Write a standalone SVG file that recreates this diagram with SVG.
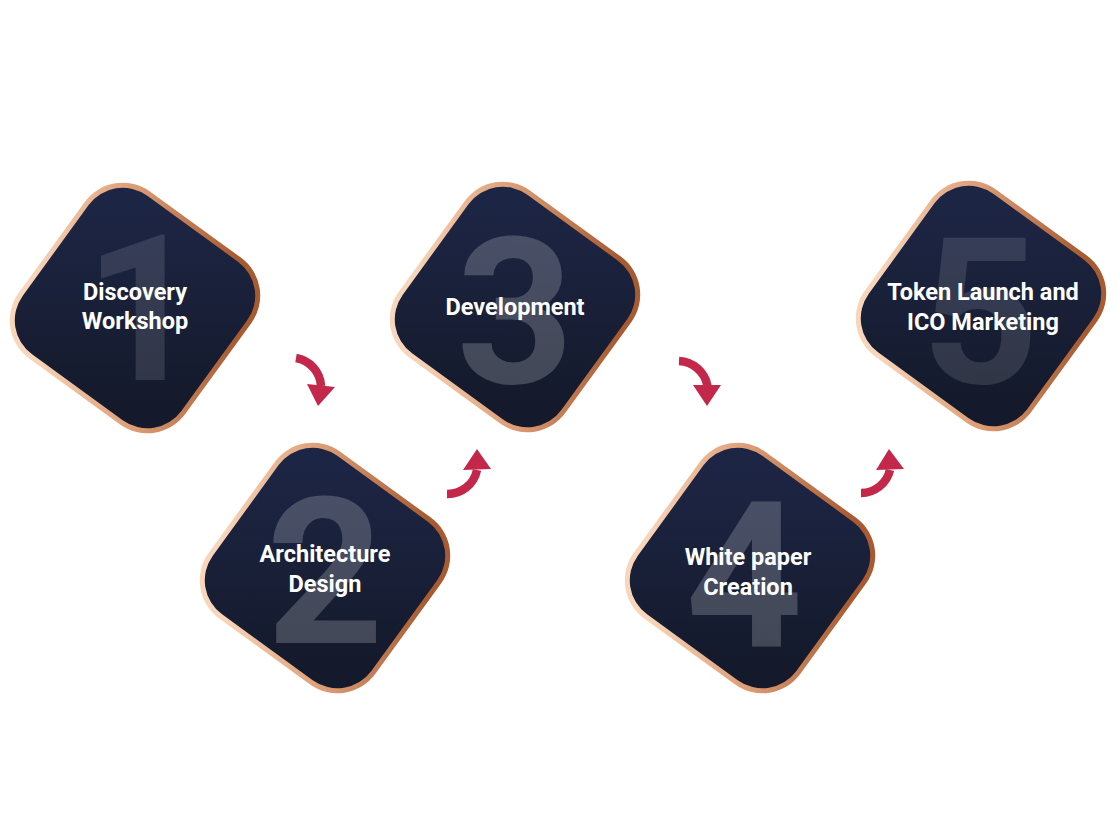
<svg xmlns="http://www.w3.org/2000/svg" xmlns:xlink="http://www.w3.org/1999/xlink" width="1118" height="822" viewBox="0 0 1118 822">
  <defs>
    <linearGradient id="copper" x1="0.096" y1="0.794" x2="0.904" y2="0.206">
      <stop offset="0" stop-color="#f8d6bb"/>
      <stop offset="0.5" stop-color="#dc9c74"/>
      <stop offset="1" stop-color="#a85a30"/>
    </linearGradient>
    <linearGradient id="navy" x1="0.206" y1="0.096" x2="0.794" y2="0.904">
      <stop offset="0" stop-color="#1d2544"/>
      <stop offset="1" stop-color="#141a2b"/>
    </linearGradient>
    <rect id="outer" x="-103" y="-103" width="206" height="206" rx="47" fill="url(#copper)"/>
    <rect id="inner" x="-98" y="-98" width="196" height="196" rx="42" fill="url(#navy)"/>
  </defs>
  <style>
    .num { font-family: Roboto, "Liberation Sans", sans-serif; font-weight: 700; font-size: 205px; fill: #ffffff; text-anchor: middle; }
    .dim { fill-opacity: 0.12; }
    .mid { fill-opacity: 0.2; }
    .lbl { font-family: Roboto, "Liberation Sans", sans-serif; font-weight: 700; font-size: 23.5px; fill: #ffffff; text-anchor: middle; }
    .shaft { fill: none; stroke: #c3284b; stroke-width: 8.5; stroke-linecap: butt; }
    .head { fill: #c3284b; }
  </style>
  <rect width="1118" height="822" fill="#ffffff"/>

  <g id="node1">
    <g transform="translate(135,308) rotate(36)"><use xlink:href="#outer"/><use xlink:href="#inner"/></g>
    <text class="num dim" x="143" y="380">1</text>
    <text class="lbl" x="135" y="300">Discovery</text>
    <text class="lbl" x="135" y="329">Workshop</text>
  </g>

  <g id="node2">
    <g transform="translate(325,568) rotate(36)"><use xlink:href="#outer"/><use xlink:href="#inner"/></g>
    <text class="num mid" x="325" y="643">2</text>
    <text class="lbl" x="325" y="562">Architecture</text>
    <text class="lbl" x="325" y="592">Design</text>
  </g>

  <g id="node3">
    <g transform="translate(515,307) rotate(36)"><use xlink:href="#outer"/><use xlink:href="#inner"/></g>
    <text class="num mid" x="515" y="383">3</text>
    <text class="lbl" x="515" y="315">Development</text>
  </g>

  <g id="node4">
    <g transform="translate(750,568) rotate(36)"><use xlink:href="#outer"/><use xlink:href="#inner"/></g>
    <text class="num mid" x="744" y="647">4</text>
    <text class="lbl" x="748" y="565">White paper</text>
    <text class="lbl" x="748" y="595">Creation</text>
  </g>

  <g id="node5">
    <g transform="translate(981,306) rotate(36)"><use xlink:href="#outer"/><use xlink:href="#inner"/></g>
    <text class="num dim" x="980" y="383">5</text>
    <text class="lbl" x="983" y="300">Token Launch and</text>
    <text class="lbl" x="983" y="330">ICO Marketing</text>
  </g>

  <g id="connectors">
    <path class="shaft" d="M 296 358 A 30 30 0 0 1 321 386"/>
    <polygon class="head" points="307,384 335,387 318,406"/>
    <path class="shaft" d="M 447 494 A 30 30 0 0 0 477 470"/>
    <polygon class="head" points="463,470 491,469 477,449"/>
    <path class="shaft" d="M 679 361 A 30.5 30.5 0 0 1 707.5 386"/>
    <polygon class="head" points="693,385 721,385 707,406"/>
    <path class="shaft" d="M 861 493 A 30 30 0 0 0 890 470"/>
    <polygon class="head" points="876,470 904,469 889,449"/>
  </g>
</svg>
